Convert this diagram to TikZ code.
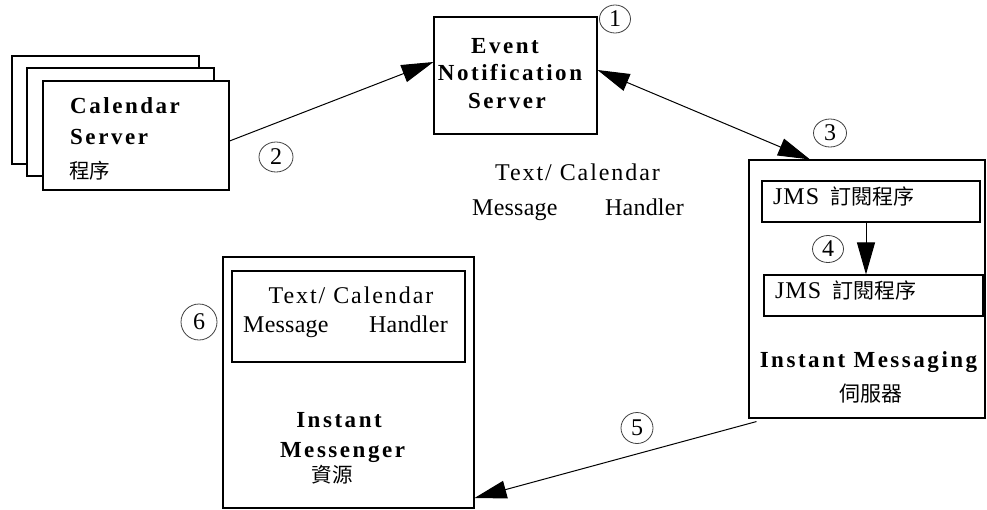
\documentclass[tikz,border=0pt]{standalone}
\usepackage{fontspec}
\setmainfont{Liberation Serif}
\newfontfamily\cjk{Noto Sans CJK TC}
\newfontfamily\lsA{Liberation Serif}[LetterSpace=11]
\newfontfamily\lsC{Liberation Serif}[LetterSpace=8]
\newfontfamily\lsB{Liberation Serif}[LetterSpace=1]
\newfontfamily\lsJ{Liberation Serif}[LetterSpace=4]
\usetikzlibrary{arrows.meta,shapes.geometric}
\begin{document}
\begin{tikzpicture}[x=1pt,y=-1pt,
  box/.style={draw, line width=1.1pt, fill=white, rectangle, inner sep=0pt},
  num/.style={ellipse, draw=black!75, line width=0.8pt, inner sep=0pt, font=\fontsize{24}{24}\selectfont},
  bl/.style={font=\lsA\bfseries\fontsize{23}{26}\selectfont, inner sep=0pt},
  rgA/.style={font=\lsC\fontsize{24}{26}\selectfont, inner sep=0pt},
  rgB/.style={font=\lsB\fontsize{24}{26}\selectfont, inner sep=0pt},
  jms/.style={font=\lsJ\fontsize{24}{26}\selectfont, inner sep=0pt, anchor=base west},
  cj/.style={font=\cjk\fontsize{20.5}{22}\selectfont, inner sep=0pt},
  arr/.style={line width=1pt, -{Triangle[length=32pt,width=18pt]}},
  darr/.style={line width=1pt, {Triangle[length=32pt,width=18pt]}-{Triangle[length=32pt,width=18pt]}}
]
\useasboundingbox (0,0) rectangle (987,509);

% Calendar server stack
\node[box, minimum width=187pt, minimum height=108pt] (cs3) at (105.5,110) {};
\node[box, minimum width=187pt, minimum height=108pt] (cs2) at (120.5,122) {};
\node[box, minimum width=186pt, minimum height=109pt] (cs1) at (136,135.5) {};
\node[bl, anchor=base west] (csa) at (70,113) {Calendar};
\node[bl, anchor=base west] (csb) at (70,144) {Server};
\node[cj] (csc) at (89.5,171) {程序};

% Event notification server
\node[box, minimum width=163pt, minimum height=117pt] (ev) at (515.5,75.5) {};
\node[bl, anchor=base] (eva) at (505,53) {Event};
\node[bl, anchor=base] (evb) at (510,80) {Notification};
\node[bl, anchor=base] (evc) at (507,108) {Server};

% floating handler label
\node[rgA, anchor=base] (fha) at (577.5,180) {Text/ Calendar};
\node[rgB, anchor=base west] (fhb) at (472,215) {Message};
\node[rgB, anchor=base east] (fhc) at (684,215) {Handler};

% Instant messaging server
\node[box, minimum width=236pt, minimum height=258pt] (im) at (867,289) {};
\node[box, minimum width=218pt, minimum height=41pt] (jms1) at (871,201.5) {};
\node[box, minimum width=219pt, minimum height=41pt] (jms2) at (873.5,295.5) {};
\node[jms] (jmsa) at (773,204) {JMS\hspace{11pt}{\cjk\fontsize{21}{22}\selectfont 訂閱程序}};
\node[jms] (jmsb) at (775,298) {JMS\hspace{11pt}{\cjk\fontsize{21}{22}\selectfont 訂閱程序}};
\node[bl, anchor=base] (ima) at (868.5,367) {Instant Messaging};
\node[cj, font=\cjk\fontsize{21}{22}\selectfont] (imb) at (871,394) {伺服器};

% Instant messenger
\node[box, minimum width=251pt, minimum height=251pt] (msg) at (348.5,382.5) {};
\node[box, minimum width=233pt, minimum height=91pt] (hnd) at (348.5,316.5) {};
\node[rgA, anchor=base] (hnda) at (351,303) {Text/ Calendar};
\node[rgB, anchor=base west] (hndb) at (243,332) {Message};
\node[rgB, anchor=base east] (hndc) at (448,332) {Handler};
\node[bl, anchor=base] (msga) at (339,427) {Instant};
\node[bl, anchor=base] (msgb) at (342.5,457) {Messenger};
\node[cj] (msgc) at (332,475) {資源};

% numbered circles
\node[num, minimum width=31pt, minimum height=28pt] (c1) at (615,19) {1};
\node[num, minimum width=34pt, minimum height=30pt] (c2) at (276,157) {2};
\node[num, minimum width=33pt, minimum height=28pt] (c3) at (830,133) {3};
\node[num, minimum width=31pt, minimum height=27pt] (c4) at (828,249) {4};
\node[num, minimum width=32pt, minimum height=31pt] (c5) at (637,428) {5};
\node[num, minimum width=36pt, minimum height=36pt] (c6) at (199,322) {6};

% connectors
\draw[arr] ([yshift=-5.5pt]cs1.east) -- ([yshift=13.5pt]ev.west);
\draw[darr] ([yshift=5.5pt]ev.east) -- ([xshift=-57pt]im.north);
\draw[arr] ([xshift=-5pt]jms1.south) -- ([xshift=-5pt]jms1.south |- jms2.north);
\coordinate (a5) at ([xshift=8pt,yshift=-3pt]im.south west);
\draw[arr] (a5) -- ([yshift=-115.5pt]msg.east);
\end{tikzpicture}
\end{document}
